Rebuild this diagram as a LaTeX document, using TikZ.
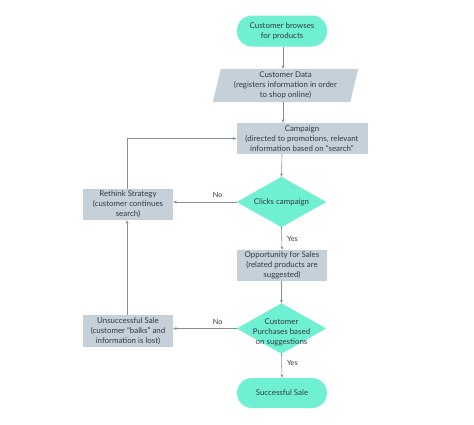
\documentclass[tikz,border=0pt]{standalone}
\usepackage{fontspec}
\setmainfont{Lato}
\usetikzlibrary{arrows.meta,backgrounds}
\definecolor{turq}{HTML}{70F0D3}
\definecolor{boxgray}{HTML}{C6D0D9}
\definecolor{txt}{HTML}{2E3A44}
\definecolor{linegray}{HTML}{8A8F94}
\tikzset{
  base/.style={font=\fontsize{7.9}{10}\selectfont, text=txt, align=center, inner sep=0pt},
  term/.style={base, fill=turq, rounded corners=15pt, minimum width=90pt, minimum height=31pt},
  procbox/.style={base, fill=boxgray, minimum width=90pt, minimum height=31pt},
  decframe/.style={base, minimum width=89pt, minimum height=50pt},
  ioframe/.style={base, minimum width=137pt, minimum height=33pt},
  arr/.style={draw=linegray, line width=0.6pt, -{Stealth[length=3.5pt,width=3pt]}},
  lbl/.style={font=\fontsize{7.2}{8}\selectfont, text=txt, inner sep=0pt}
}
\begin{document}
\begin{tikzpicture}[x=1pt,y=-1pt]
\useasboundingbox (0,0) rectangle (474,424);

\node[term] (start) at (282,31) {Customer browses\\for products};
\node[ioframe] (data) at (285.5,85.5) {Customer Data\\(registers information in order\\to shop online)};
\node[procbox, minimum width=131pt] (camp) at (302,138.5) {Campaign\\(directed to promotions, relevant\\information based on ``search''};
\node[decframe] (clicks) at (281.5,202) {Clicks campaign};
\node[procbox, minimum width=90pt, minimum height=31pt] (opp) at (282,265.5) {Opportunity for Sales\\(related products are\\suggested)};
\node[decframe, text height=33pt] (buy) at (281.5,328.5) {Customer\\Purchases based\\on suggestions};
\node[term, minimum height=30pt] (success) at (282,393) {Successful Sale};
\node[procbox] (rethink) at (128,204.5) {Rethink Strategy\\(customer continues\\search)};
\node[procbox, minimum height=32pt] (unsucc) at (128,331) {Unsuccessful Sale\\(customer ``balks'' and\\information is lost)};

\begin{scope}[on background layer]
  \fill[white] (0,0) rectangle (474,424);
  \fill[boxgray] ([xshift=-4pt]data.south west) -- ([xshift=-4pt]data.south east)
     -- ([xshift=4pt]data.north east) -- ([xshift=4pt]data.north west) -- cycle;
  \fill[turq] (clicks.north) -- (clicks.east) -- (clicks.south) -- (clicks.west) -- cycle;
  \fill[turq] (buy.north) -- (buy.east) -- (buy.south) -- (buy.west) -- cycle;
\end{scope}

\draw[arr] ([xshift=1pt]start.south) -- ([xshift=1pt]start.south |- data.north);
\draw[arr] ([xshift=1pt]start.south |- data.south) -- ([xshift=1pt]start.south |- camp.north);
\draw[arr] (start.south |- camp.south) -- (clicks.north);
\draw[arr] (clicks.south) -- (opp.north) node[lbl, pos=0.5, right=5pt] {Yes};
\draw[arr] (opp.south -| clicks.south) -- (buy.north);
\draw[arr] (buy.south) -- (success.north) node[lbl, pos=0.4, right=5pt] {Yes};
\draw[arr] (clicks.west) -- (clicks.west -| rethink.east) node[lbl, pos=0.3, above=4pt] {No};
\draw[arr] (buy.west) -- (buy.west -| unsucc.east) node[lbl, pos=0.3, above=4pt] {No};
\draw[arr] ([xshift=-1pt]unsucc.north) -- ([xshift=-1pt]rethink.south);
\draw[arr] ([xshift=-1pt]rethink.north) |- (camp.west);
\end{tikzpicture}
\end{document}
